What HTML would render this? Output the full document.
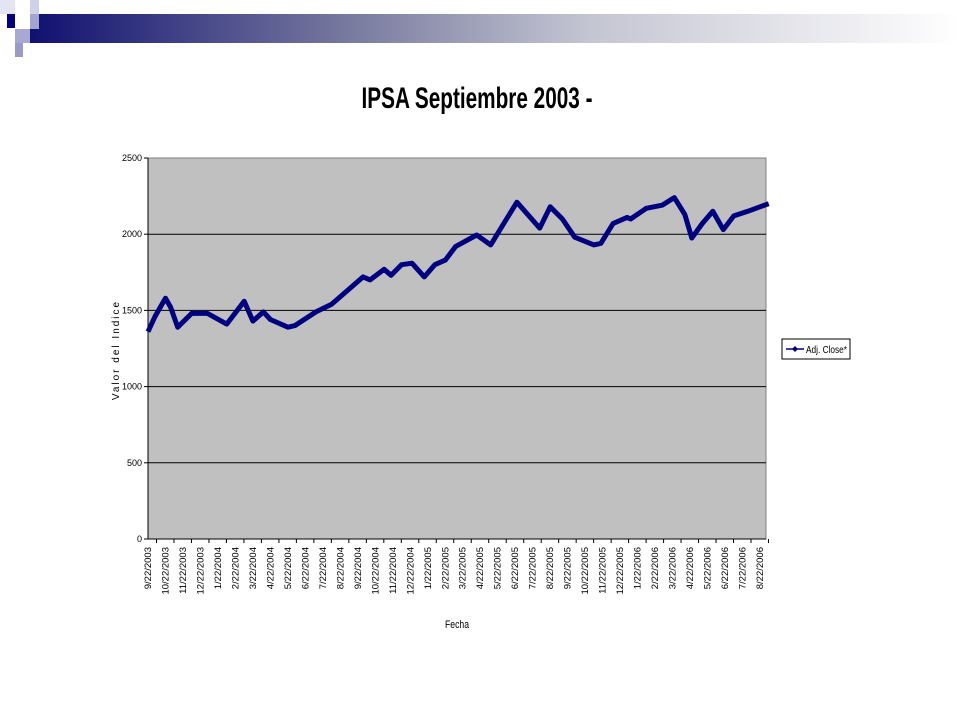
<!DOCTYPE html>
<html><head><meta charset="utf-8"><style>
html,body{margin:0;padding:0;background:#fff;}
svg{display:block;font-family:"Liberation Sans",Arial,sans-serif;}
</style></head><body>
<svg id="c" width="960" height="720" viewBox="0 0 960 720">
<defs><linearGradient id="g" x1="0" x2="1" y1="0" y2="0">
<stop offset="0" stop-color="#101070"/><stop offset="0.35" stop-color="#7a7ca0"/><stop offset="0.6" stop-color="#c4c5d2"/><stop offset="1" stop-color="#ffffff"/></linearGradient></defs>
<g>
<rect x="30" y="14" width="930" height="29" fill="url(#g)"/>
<rect x="0" y="0" width="15" height="14" fill="#e4e4f2"/>
<rect x="7" y="14" width="8" height="14" fill="#000080"/>
<rect x="30" y="0" width="9" height="14" fill="#d0d0e8"/>
<rect x="30" y="14" width="9" height="15" fill="#a4a4d0"/>
<rect x="15" y="29" width="15" height="14" fill="#a8a8d2"/>
<rect x="15" y="43" width="8" height="14" fill="#9a9ac8"/>
</g>
<text x="477" y="108" font-size="30" font-weight="bold" text-anchor="middle" textLength="231" lengthAdjust="spacingAndGlyphs">IPSA Septiembre 2003 -</text>
<rect x="148" y="158" width="618" height="381" fill="#c0c0c0" stroke="#808080"/>
<g id="grid"></g><g id="yt"></g><g id="xt"></g>
<path id="line" fill="none" stroke="#000080" stroke-width="5" stroke-linejoin="round"/>
<text transform="translate(119,350) rotate(-90)" font-size="10" text-anchor="middle" letter-spacing="2">Valor del Indice</text>
<text x="457" y="628" font-size="11" text-anchor="middle" textLength="24" lengthAdjust="spacingAndGlyphs">Fecha</text>
<g>
<rect x="782" y="339" width="68" height="20" fill="#fff" stroke="#000"/>
<line x1="786" y1="349" x2="804" y2="349" stroke="#000080" stroke-width="1.5"/>
<path d="M795 346 L798 349 L795 352 L792 349Z" fill="#000080"/>
<text x="806" y="353" font-size="10" textLength="41" lengthAdjust="spacingAndGlyphs">Adj. Close*</text>
</g>
</svg>
<script>
const months=["9/22/2003","10/22/2003","11/22/2003","12/22/2003","1/22/2004","2/22/2004","3/22/2004","4/22/2004","5/22/2004","6/22/2004","7/22/2004","8/22/2004","9/22/2004","10/22/2004","11/22/2004","12/22/2004","1/22/2005","2/22/2005","3/22/2005","4/22/2005","5/22/2005","6/22/2005","7/22/2005","8/22/2005","9/22/2005","10/22/2005","11/22/2005","12/22/2005","1/22/2006","2/22/2006","3/22/2006","4/22/2006","5/22/2006","6/22/2006","7/22/2006","8/22/2006"];
const yTicks=[0,500,1000,1500,2000,2500];
// time in months since 9/22/2003
const times=[0,0.4,0.9,1.0,1.3,1.7,2.5,3.4,4.5,5.5,6.0,6.6,7.0,8.0,8.4,9.6,10.5,11.4,12.3,12.7,13.5,13.9,14.5,15.1,15.8,16.4,17.0,17.6,18.8,19.6,20.4,21.1,22.4,23.0,23.7,24.4,25.5,25.9,26.6,27.4,27.6,28.5,29.4,30.1,30.7,31.1,31.7,32.3,32.9,33.5,34.3,35.0,35.5];
const values=[1360,1460,1560,1580,1520,1390,1480,1480,1410,1560,1430,1490,1440,1390,1400,1490,1540,1630,1720,1700,1770,1730,1800,1810,1720,1800,1830,1920,1995,1930,2080,2210,2040,2180,2100,1980,1930,1940,2070,2110,2100,2170,2190,2240,2130,1975,2070,2150,2030,2120,2150,2180,2200];
const X0=148,W=618,Y0=539,H=381,NS="http://www.w3.org/2000/svg";
const x=t=>X0+t/(months.length-0.0)*W*(36/36)*(618/618);
const xm=t=>X0+t*(W-6)/(months.length-1);
const y=v=>Y0-v/2500*H;
function mk(tag,a,p){const e=document.createElementNS(NS,tag);for(const k in a)e.setAttribute(k,a[k]);p.appendChild(e);return e;}
const grid=document.getElementById('grid'),yt=document.getElementById('yt'),xt=document.getElementById('xt');
yTicks.forEach(v=>{
 if(v>0&&v<2500){const l=mk('line',{x1:X0,x2:X0+W,y1:y(v),y2:y(v),stroke:'#000','stroke-width':1},grid);
 
 }
 mk('line',{x1:X0-4,x2:X0,y1:y(v),y2:y(v),stroke:'#000'},yt);
 const t=mk('text',{x:X0-6,y:y(v)+3,'font-size':9,'text-anchor':'end'},yt);t.textContent=v;
 
 
});
mk('line',{x1:X0,x2:X0,y1:158,y2:Y0,stroke:'#000'},yt);
mk('line',{x1:X0,x2:X0+W,y1:Y0,y2:Y0,stroke:'#000'},xt);
months.forEach((m,i)=>{
 const px=xm(i);
 mk('line',{x1:px+8.5,x2:px+8.5,y1:Y0,y2:Y0+4,stroke:'#000'},xt);
 const t=mk('text',{transform:`translate(${px+3},${Y0+8}) rotate(-90)`,'font-size':9.5,'text-anchor':'end'},xt);
 t.textContent=m;
 
 
});
let d='';times.forEach((t,i)=>{d+=(i?'L':'M')+xm(t).toFixed(1)+' '+y(values[i]).toFixed(1);});
document.getElementById('line').setAttribute('d',d);
</script>
</body></html>
